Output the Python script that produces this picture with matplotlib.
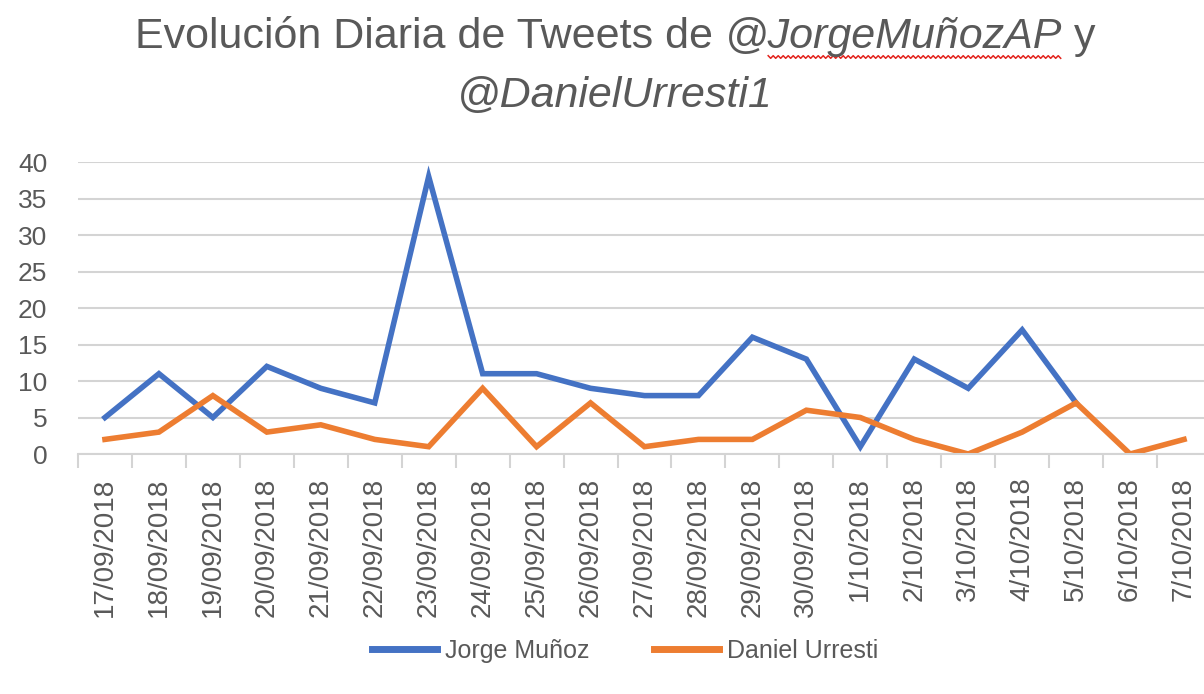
import numpy as np
import matplotlib
matplotlib.use('Agg')
import matplotlib.pyplot as plt
from matplotlib.lines import Line2D

plt.rcParams['font.family'] = ['Liberation Sans', 'DejaVu Sans']

# Datos
fechas = ['17/09/2018', '18/09/2018', '19/09/2018', '20/09/2018', '21/09/2018',
          '22/09/2018', '23/09/2018', '24/09/2018', '25/09/2018', '26/09/2018',
          '27/09/2018', '28/09/2018', '29/09/2018', '30/09/2018', '1/10/2018',
          '2/10/2018', '3/10/2018', '4/10/2018', '5/10/2018', '6/10/2018',
          '7/10/2018']
jorge = [5, 11, 5, 12, 9, 7, 38, 11, 11, 9, 8, 8, 16, 13, 1, 13, 9, 17, 7,
         np.nan, np.nan]
daniel = [2, 3, 8, 3, 4, 2, 1, 9, 1, 7, 1, 2, 2, 6, 5, 2, 0, 3, 7, 0, 2]
yticks = [0, 5, 10, 15, 20, 25, 30, 35, 40]

gris = '#595959'
azul = '#4472C4'
naranja = '#ED7D31'
W, H = 1204, 694

fig = plt.figure(figsize=(W / 100, H / 100), dpi=100)
# el área de trazado se sale por la derecha, como en la captura
ax = fig.add_axes([78 / W, 1 - 454 / H, (1211 - 78) / W, 292 / H])

x = np.arange(len(fechas))
ax.plot(x, jorge, color=azul, lw=4, solid_joinstyle='miter', label='Jorge Muñoz')
ax.plot(x, daniel, color=naranja, lw=4, solid_joinstyle='miter', label='Daniel Urresti')

ax.set_xlim(-0.5, len(fechas) - 0.5)
ax.set_ylim(0, 40)
ax.set_yticks(yticks)
ax.yaxis.grid(True, color='#D4D4D4', lw=1.5)
ax.set_axisbelow(True)
ax.tick_params(axis='y', length=0, pad=22, labelsize=19, labelcolor=gris)

ax.set_xticks(x)
ax.set_xticklabels(fechas, rotation=90, fontsize=20, color=gris)
ax.set_xticks(np.arange(-0.5, len(fechas)), minor=True)
ax.tick_params(axis='x', which='major', length=0, pad=17)
ax.tick_params(axis='x', which='minor', length=10, width=1.5, color='#D4D4D4')

for lado in ['top', 'right', 'left']:
    ax.spines[lado].set_visible(False)
ax.spines['bottom'].set_color('#D4D4D4')
ax.spines['bottom'].set_linewidth(1.5)

fig.legend(loc='center', bbox_to_anchor=(625 / W, 1 - 651 / H), ncol=2,
           frameon=False, fontsize=18, labelcolor=gris, handlelength=2.6,
           handletextpad=0.3, columnspacing=2.6)
for l in fig.legends[0].get_lines():
    l.set_linewidth(5)

# Título en dos líneas con partes en cursiva
tam = 31
fig.canvas.draw()
r = fig.canvas.get_renderer()


def ancho(s, estilo='normal'):
    t = fig.text(0, 0, s, fontsize=tam, style=estilo)
    w = t.get_window_extent(r).width
    t.remove()
    return w


espacio = ancho('a a') - ancho('aa')


def linea(partes, yc, xc=615):
    textos = [fig.text(0, 1 - yc / H, s, fontsize=tam, style=st, color=gris,
                       va='center', ha='left') for s, st, _ in partes]
    anchos = [t.get_window_extent(r).width for t in textos]
    total = sum(anchos) + espacio * sum(p[2] for p in partes)
    x0 = xc - total / 2
    pos = []
    for t, w, p in zip(textos, anchos, partes):
        t.set_x(x0 / W)
        pos.append((x0, w))
        x0 += w + espacio * p[2]
    return pos


pos = linea([('Evolución Diaria de Tweets de', 'normal', 1),
             ('@JorgeMuñozAP', 'italic', 1),
             ('y', 'normal', 0)], 37)
linea([('@DanielUrresti1', 'italic', 0)], 96)

# subrayado ondulado del corrector
x_ini = pos[1][0] + ancho('@', 'italic')
x_fin = pos[1][0] + pos[1][1]
xs = np.arange(x_ini, x_fin, 2.5)
ys = 1 - (57 + np.where(np.arange(len(xs)) % 2 == 0, -1.3, 1.3)) / H
fig.add_artist(Line2D(xs / W, ys, color='#E3231C', lw=1.1))

fig.savefig('out.png', dpi=100)
